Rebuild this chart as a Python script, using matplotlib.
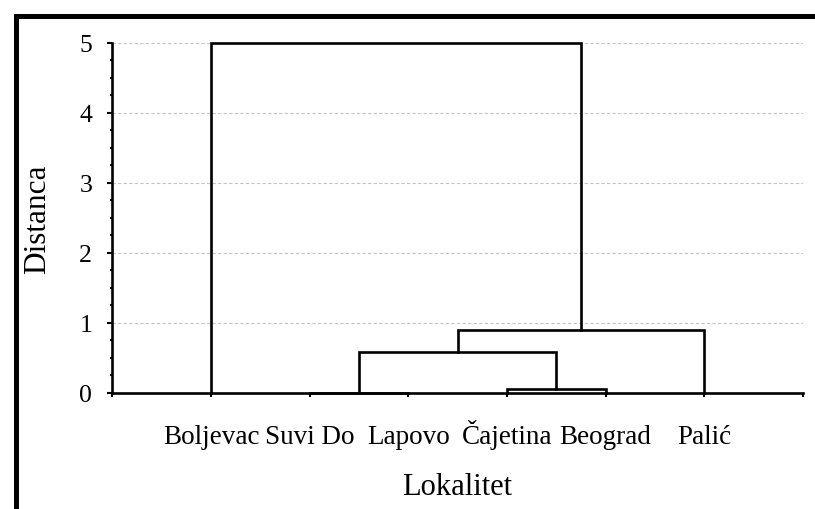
import matplotlib.pyplot as plt
from matplotlib.patches import Rectangle
from matplotlib.ticker import MultipleLocator

# leaf order along the x axis
localities = ['Boljevac', 'Suvi Do', 'Lapovo', 'Čajetina', 'Beograd', 'Palić']

# agglomeration steps: (cluster a, cluster b, distance); new clusters numbered from 6
merge_a = [1, 3, 6, 8, 0]
merge_b = [2, 4, 7, 5, 9]
merge_dist = [0.0, 0.05, 0.58, 0.9, 5.0]

plt.rcParams['font.family'] = ['Liberation Serif', 'DejaVu Serif']

fig = plt.figure(figsize=(8.15, 5.1), dpi=100)
ax = fig.add_axes([0.138, 0.2275, 0.847, 0.687])

# positions/heights of every node, leaves first
node_x = [i + 1 for i in range(len(localities))]
node_h = [0.0] * len(localities)
for a, b, d in zip(merge_a, merge_b, merge_dist):
    xa, xb = node_x[a], node_x[b]
    ax.plot([xa, xa, xb, xb], [node_h[a], d, d, node_h[b]],
            color='black', lw=1.9, solid_joinstyle='miter', clip_on=False, zorder=3)
    node_x.append((xa + xb) / 2)
    node_h.append(d)

ax.set_xlim(0, 7)
ax.set_ylim(0, 5)
ax.set_xticks(range(8))
ax.set_xticklabels([''] + localities + [''])
ax.yaxis.set_major_locator(MultipleLocator(1))
ax.yaxis.set_minor_locator(MultipleLocator(0.25))

ax.tick_params(axis='x', direction='out', length=3, width=1.5, pad=33, labelsize=19.5)
ax.tick_params(axis='y', which='major', direction='out', length=3.6, width=1.5, pad=11, labelsize=18.5)
ax.tick_params(axis='y', which='minor', direction='out', length=1.5, width=1.5)
# baseline alignment keeps the accented labels on the same line
for lbl in ax.get_xticklabels():
    lbl.set_verticalalignment('baseline')

for side in ['top', 'right']:
    ax.spines[side].set_visible(False)
for side in ['left', 'bottom']:
    ax.spines[side].set_linewidth(1.9)

ax.yaxis.grid(True, linestyle=(0, (3, 2)), color='#c4c4c4', lw=0.8)
ax.get_ygridlines()[-1].set_visible(False)
ax.set_axisbelow(True)

ax.set_xlabel('Lokalitet', fontsize=22)
ax.xaxis.set_label_coords(0.5, -0.226)
ax.text(-0.109, 0.5, 'Distanca', fontsize=22.5, rotation=90,
        ha='center', va='center', transform=ax.transAxes)

# heavy outer frame (only the top and left edges fall inside the image)
fig.patches.append(Rectangle((15.5 / 815, -0.1), 1.2, (510 - 16.5) / 510 + 0.1,
                             transform=fig.transFigure, fill=False,
                             ec='black', lw=3.6))

fig.savefig('out.png', dpi=100)
